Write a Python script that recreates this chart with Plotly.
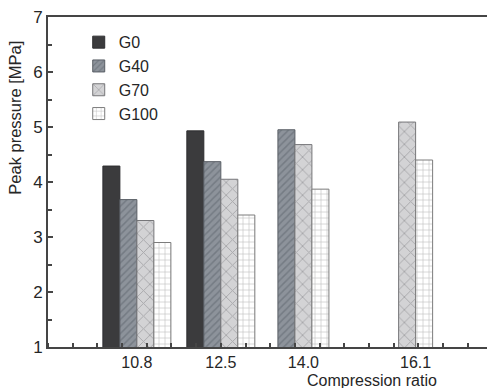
import plotly.graph_objects as go

# Peak in-cylinder pressure by compression ratio and gasoline blend
ratios = [10.8, 12.5, 14.0, 16.1]
tick_text = ["10.8", "12.5", "14.0", "16.1"]
g0 = [4.29, 4.93, None, None]
g40 = [3.68, 4.37, 4.95, None]
g70 = [3.30, 4.05, 4.68, 5.09]
g100 = [2.90, 3.40, 3.87, 4.40]

series = [
    ("G0", g0, dict(shape="", bgcolor="#3b3b3d"), "#2e2e30"),
    ("G40", g40, dict(shape="/", bgcolor="#8d939b", fgcolor="#5c636c", size=5, solidity=0.3), "#5a5f66"),
    ("G70", g70, dict(shape="x", bgcolor="#d3d3d5", fgcolor="#7e7e82", size=9, solidity=0.2), "#767679"),
    ("G100", g100, dict(shape="+", bgcolor="#ffffff", fgcolor="#808080", size=6, solidity=0.2), "#7c7c7c"),
]

BARGAP = 0.082
FONT = "Liberation Sans, Arial, sans-serif"
TXT = "#262626"
AX = "#454545"

fig = go.Figure()
for name, vals, pat, edge in series:
    marker = dict(color=pat.get("bgcolor"), line=dict(color=edge, width=1))
    if pat.get("shape"):
        marker["pattern"] = pat
    fig.add_trace(go.Bar(name=name, x=ratios, y=vals, marker=marker))

# centre each category label under the bars that are actually present
step = min(b - a for a, b in zip(ratios, ratios[1:]))
group_w = step * (1 - BARGAP)
slot_w = group_w / len(series)
label_pos = []
for i, r in enumerate(ratios):
    offs = [-group_w / 2 + slot_w * (k + 0.5)
            for k, (_, vals, _, _) in enumerate(series) if vals[i] is not None]
    label_pos.append(r + sum(offs) / len(offs))

fig.update_layout(
    width=487, height=388,
    margin=dict(l=48, r=0, t=17, b=41),
    paper_bgcolor="white", plot_bgcolor="white",
    barmode="group", bargap=BARGAP, bargroupgap=0,
    font=dict(family=FONT, size=16, color=TXT),
    showlegend=True,
    legend=dict(x=0.07, y=0.975, xanchor="left", yanchor="top",
                bgcolor="rgba(0,0,0,0)", font=dict(size=16, color=TXT),
                tracegroupgap=0, itemwidth=30),
)
fig.update_xaxes(
    range=[9.0, 17.89], showgrid=False, zeroline=False,
    showline=True, linecolor=AX, linewidth=2, mirror=True,
    tickmode="array", tickvals=label_pos, ticktext=tick_text,
    ticks="", ticklabelstandoff=0, tickfont=dict(size=16, color=TXT),
    minor=dict(tickmode="linear", tick0=9.5, dtick=0.5, ticks="inside",
               ticklen=4, tickwidth=2, tickcolor=AX, showgrid=False),
)
fig.update_yaxes(
    range=[1, 7], showgrid=False, zeroline=False,
    showline=True, linecolor=AX, linewidth=2,
    tickmode="linear", tick0=1, dtick=1,
    ticks="inside", ticklen=5, tickwidth=2, tickcolor=AX,
    tickfont=dict(size=17, color=TXT),
    minor=dict(tickmode="linear", tick0=1.5, dtick=1, ticks="inside",
               ticklen=4, tickwidth=2, tickcolor=AX, showgrid=False),
)
fig.add_annotation(text="Peak pressure [MPa]", textangle=-90,
                   xref="paper", yref="paper", x=-0.075, y=0.695,
                   xanchor="center", yanchor="middle", showarrow=False,
                   font=dict(size=16.5, color=TXT))
fig.add_annotation(text="Compression ratio",
                   xref="paper", yref="paper", x=0.738, y=-0.1,
                   xanchor="center", yanchor="middle", showarrow=False,
                   font=dict(size=16, color=TXT))

fig.write_html("out.html")
